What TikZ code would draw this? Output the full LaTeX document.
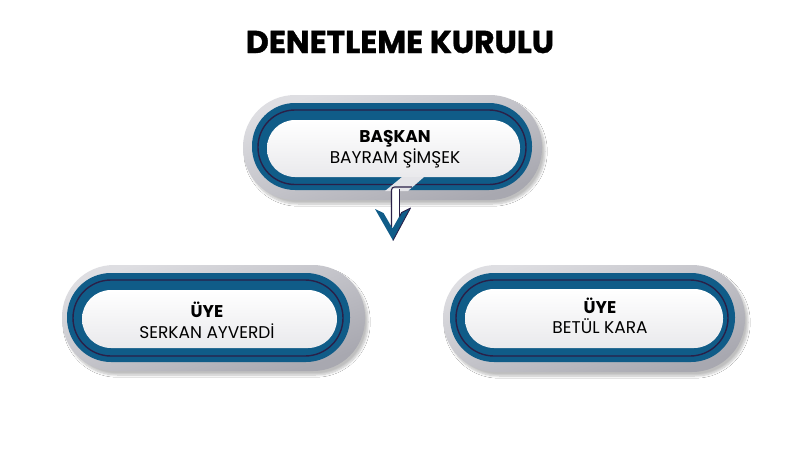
\documentclass[tikz,border=0pt]{standalone}
\usepackage{fontspec}
\setmainfont{Poppins}
\newfontfamily\titlefont{Poppins}[FakeBold=1.2]
\usetikzlibrary{shadows.blur}
\definecolor{ringblue}{RGB}{16,92,136}
\definecolor{ringdark}{RGB}{42,32,72}
\definecolor{greylight}{RGB}{222,222,226}
\definecolor{greydark}{RGB}{168,168,176}
\definecolor{pillwhite}{RGB}{245,245,248}
\definecolor{gapgrey}{RGB}{228,228,232}
\tikzset{
  outerring/.style={top color=greylight, bottom color=greydark, shading angle=20,
     blur shadow={shadow xshift=3pt, shadow yshift=-4pt, shadow blur steps=8, shadow opacity=25}},
  bluering/.style={fill=ringblue},
  darkline/.style={draw=ringdark, line width=1.4pt},
  innerpill/.style={top color=white, bottom color=pillwhite!90!gray},
  roletext/.style={font=\fontsize{17}{20}\selectfont\bfseries, text=black, anchor=base, inner sep=0pt},
  nametext/.style={font=\fontsize{17}{20}\selectfont, text=black, anchor=base, inner sep=0pt},
  titletext/.style={font=\titlefont\fontsize{31.5}{36}\selectfont\bfseries, text=black, anchor=base, inner sep=0pt},
  stemline/.style={ringdark, line width=1.1pt},
}
\begin{document}
\begin{tikzpicture}[x=1pt,y=-1pt]
\useasboundingbox[fill=white] (0,0) rectangle (800,450);

% title
\node[titletext] (title) at (400,53) {DENETLEME KURULU};

% ---------- top pill ----------
\shade[outerring, rounded corners=52pt] (243,95) rectangle (542,200);
\fill[bluering, rounded corners=43pt] (252,103) rectangle (532,190);
\draw[darkline, rounded corners=37pt] (258,110) rectangle (526,184.5);
\shade[innerpill, rounded corners=28pt] (267,120) rectangle (520,177);
% gap for arrow
\fill[gapgrey] (385,191) -- (402,177) -- (424,177) -- (408,191) -- cycle;
\node[roletext] (boss) at (395,142) {BAŞKAN};
\node[nametext] (bossname) at (395,163) {BAYRAM ŞİMŞEK};

% arrow
\coordinate (stemtop) at (412,187);
\fill[white] (391.5,229) rectangle (399.5,189);
\draw[stemline, rounded corners=3pt] (391.5,229) -- (391.5,187) -- (stemtop);
\draw[stemline] (399.5,229) -- (399.5,188.5);
\fill[ringblue] (375,209) -- (383.5,213) -- (392.5,228.5) -- (401.5,212.5) -- (410.5,208) -- (393,240.5) -- cycle;
\draw[ringdark, line width=0.9pt, line join=round] (399.5,216.5) -- (401.5,212.5) -- (410.5,208) -- (393,240.5);

% ---------- left pill ----------
\shade[outerring, rounded corners=52pt] (62,265) rectangle (365,371);
\fill[bluering, rounded corners=44pt] (67,273) rectangle (350,362);
\draw[darkline, rounded corners=38pt] (73,280) rectangle (343,356);
\shade[innerpill, rounded corners=29pt] (82,290) rectangle (337,348);
\node[roletext] (m1) at (207,317) {ÜYE};
\node[nametext] (m1name) at (207,338) {SERKAN AYVERDİ};

% ---------- right pill ----------
\shade[outerring, rounded corners=53pt] (443,265) rectangle (745,372);
\fill[bluering, rounded corners=44pt] (450,273) rectangle (735,362);
\draw[darkline, rounded corners=38pt] (456,280) rectangle (728,356);
\shade[innerpill, rounded corners=29pt] (465,289) rectangle (723,348);
\node[roletext] (m2) at (600,313) {ÜYE};
\node[nametext] (m2name) at (600,333) {BETÜL KARA};
\end{tikzpicture}
\end{document}
